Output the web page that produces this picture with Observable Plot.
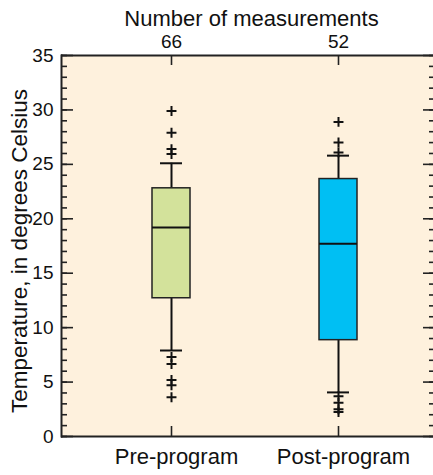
<!DOCTYPE html>
<html>
<head>
<meta charset="utf-8">
<script src="https://cdn.jsdelivr.net/npm/d3@7"></script>
<script src="https://cdn.jsdelivr.net/npm/@observablehq/plot@0.6"></script>
<style>
  html, body { margin: 0; padding: 0; background: #fff; overflow: hidden; }
  #chart svg { overflow: hidden; display: block; }
</style>
</head>
<body>
<div id="chart"></div>
<script>
// ---- data ----
const categories = ["Pre-program", "Post-program"];
const counts = [66, 52];
const lowerWhisker = [7.9, 4.05];
const q1 = [12.7, 8.85];
const median = [19.2, 17.7];
const q3 = [22.8, 23.65];
const upperWhisker = [25.1, 25.8];
const preOutliers = [29.9, 27.9, 26.4, 25.95, 7.3, 6.65, 5.2, 4.7, 3.6];
const postOutliers = [28.9, 27.0, 26.1, 3.7, 3.1, 2.5, 2.25];
const fills = ["#D3E29B", "#00BFF3"];
const yMajorTicks = [0, 5, 10, 15, 20, 25, 30, 35];
const yMinorTicks = d3.range(0, 36, 1);

const stats = categories.map((c, i) => ({
  cat: c, n: counts[i], lo: lowerWhisker[i], q1: q1[i], med: median[i],
  q3: q3[i], hi: upperWhisker[i], fill: fills[i]
}));
const outliers = [
  ...preOutliers.map(v => ({cat: categories[0], v})),
  ...postOutliers.map(v => ({cat: categories[1], v}))
];

const W = 433, H = 475;
const mL = 61, mR = 0, mT = 55, mB = 39;
const fw = W - mL - mR, fh = H - mT - mB;
const narrow = "'Liberation Sans Narrow', 'Arial Narrow', 'Liberation Sans', sans-serif";
const sans = "'Liberation Sans', Arial, sans-serif";

const chart = Plot.plot({
  width: W, height: H,
  marginLeft: mL, marginRight: mR, marginTop: mT, marginBottom: mB,
  style: {background: "#fff", overflow: "hidden"},
  x: {type: "band", domain: categories, range: [151.5, 357], paddingInner: 0.773, paddingOuter: 0, axis: null},
  y: {domain: [0, 35], axis: null},
  marks: [
    Plot.frame({fill: "#FEF1DD", stroke: null}),
    // whiskers
    Plot.ruleX(stats, {x: "cat", y1: "lo", y2: "q1", stroke: "#111", strokeWidth: 2}),
    Plot.ruleX(stats, {x: "cat", y1: "q3", y2: "hi", stroke: "#111", strokeWidth: 2}),
    // boxes
    Plot.barY(stats, {x: "cat", y1: "q1", y2: "q3", fill: "fill", stroke: "#222", strokeWidth: 1.5}),
    Plot.tickY(stats, {x: "cat", y: "med", stroke: "#111", strokeWidth: 2}),
    // whisker caps
    Plot.tickY(stats, {x: "cat", y: "lo", stroke: "#111", strokeWidth: 2, insetLeft: 8, insetRight: 8}),
    Plot.tickY(stats, {x: "cat", y: "hi", stroke: "#111", strokeWidth: 2, insetLeft: 8, insetRight: 8}),
    // outliers
    Plot.dot(outliers, {x: "cat", y: "v", symbol: "plus", r: 3.3, stroke: "#111", strokeWidth: 2}),
    // frame lines: left, top, bottom (right side lies beyond the picture)
    Plot.frame({anchor: "left", stroke: "#222", strokeWidth: 2}),
    Plot.ruleY([0, 35], {stroke: "#222", strokeWidth: 2.2}),
    // left ticks (inward)
    Plot.tickY(yMinorTicks, {y: d => d, insetRight: fw - 6, stroke: "#222", strokeWidth: 1.6}),
    Plot.tickY(yMajorTicks, {y: d => d, insetRight: fw - 12, stroke: "#222", strokeWidth: 1.6}),
    // right ticks (inward, partly beyond the picture)
    Plot.tickY(yMinorTicks, {y: d => d, insetLeft: fw - 4, stroke: "#222", strokeWidth: 1.6}),
    Plot.tickY(yMajorTicks, {y: d => d, insetLeft: fw - 10, stroke: "#222", strokeWidth: 1.6}),
    // top and bottom category ticks (inward)
    Plot.tickX(categories, {x: d => d, insetBottom: fh - 10, stroke: "#222", strokeWidth: 1.6}),
    Plot.tickX(categories, {x: d => d, insetTop: fh - 10, stroke: "#222", strokeWidth: 1.6}),
    // y tick labels
    Plot.text(yMajorTicks, {y: d => d, text: d => String(d), frameAnchor: "left", dx: -8, textAnchor: "end",
      fontFamily: narrow, fontSize: 19, fill: "#111"}),
    // y label
    Plot.text(["Temperature, in degrees Celsius"], {frameAnchor: "left", dx: -42, dy: 5, rotate: -90,
      textAnchor: "middle", lineAnchor: "middle", fontFamily: sans, fontSize: 22.5, fill: "#111"}),
    // bottom category labels
    Plot.text(stats, {x: "cat", text: "cat", frameAnchor: "bottom", dy: 20, dx: 5, lineAnchor: "middle",
      fontFamily: sans, fontSize: 22, fill: "#111"}),
    // top counts
    Plot.text(stats, {x: "cat", text: d => String(d.n), frameAnchor: "top", dy: -13.5, lineAnchor: "middle",
      fontFamily: narrow, fontSize: 19, fill: "#111"}),
    // top title
    Plot.text(["Number of measurements"], {frameAnchor: "top", dx: 4, dy: -36.5, lineAnchor: "middle",
      fontFamily: sans, fontSize: 22, fill: "#111"})
  ]
});
document.getElementById("chart").appendChild(chart);
</script>
</body>
</html>
